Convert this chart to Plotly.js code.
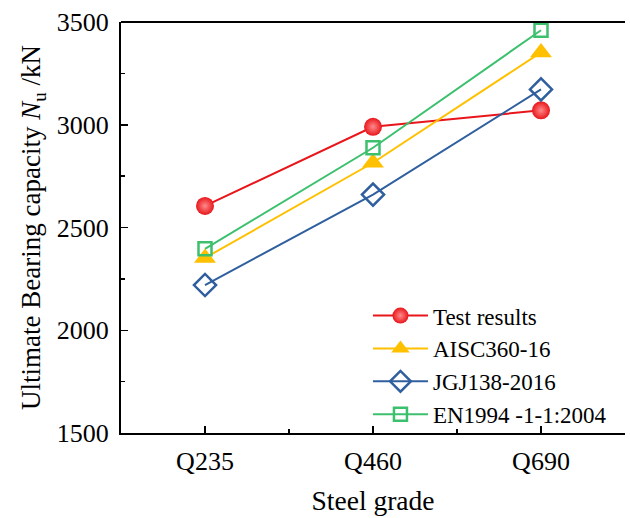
<!DOCTYPE html>
<html>
<head>
<meta charset="utf-8">
<script src="https://cdn.plot.ly/plotly-3.0.1.min.js"></script>
<style>html,body{margin:0;padding:0;background:#fff;}</style>
</head>
<body>
<div id="chart" style="width:630px;height:518px;"></div>
<script>
const categories = ["Q235", "Q460", "Q690"];
const testResults = [2605, 2990, 3070];
const aisc360 = [2352, 2815, 3352];
const jgj138 = [2220, 2660, 3172];
const en1994 = [2396, 2888, 3460];
const seriesNames = ["Test results", "AISC360-16", "JGJ138-2016", "EN1994 -1-1:2004"];

const xIdx = categories.map((c, i) => i);
const serif = "Liberation Serif, Times New Roman, serif";

const traces = [
  {x: xIdx, y: testResults, name: seriesNames[0], mode: "lines+markers",
   line: {color: "#e8161b", width: 2},
   marker: {symbol: "circle", size: 18, color: "#e8161b", gradient: {type: "radial", color: "#ff8a8a"}}},
  {x: xIdx, y: aisc360, name: seriesNames[1], mode: "lines+markers",
   line: {color: "#ffc000", width: 2},
   marker: {symbol: "triangle-up", size: 19, color: "#ffc000"}},
  {x: xIdx, y: jgj138, name: seriesNames[2], mode: "lines+markers",
   line: {color: "#2f5f9e", width: 2},
   marker: {symbol: "diamond-open", size: 17, color: "#2f5f9e", line: {width: 2.5}}},
  {x: xIdx, y: en1994, name: seriesNames[3], mode: "lines+markers",
   line: {color: "#3cc06e", width: 2},
   marker: {symbol: "square-open", size: 13, color: "#3cc06e", line: {width: 2.5}}}
];

const layout = {
  width: 630, height: 518,
  margin: {l: 121, r: 5, t: 22, b: 85},
  paper_bgcolor: "#ffffff", plot_bgcolor: "#ffffff",
  font: {family: serif, size: 26, color: "#000"},
  showlegend: true,
  legend: {
    x: 0.49, y: 0.338, xanchor: "left", yanchor: "top",
    itemwidth: 55,
    bgcolor: "rgba(0,0,0,0)", borderwidth: 0,
    font: {family: serif, size: 23, color: "#000"}
  },
  xaxis: {
    range: [-0.5, 2.5],
    tickvals: xIdx, ticktext: categories,
    ticks: "inside", ticklen: 7, tickwidth: 1.5, tickcolor: "#000",
    minor: {dtick: 0.5, ticks: "inside", ticklen: 4, tickwidth: 1.5, tickcolor: "#000"},
    showline: true, linecolor: "#000", linewidth: 2, mirror: false,
    showgrid: false, zeroline: false,
    tickfont: {family: serif, size: 26},
    ticklabelstandoff: 4,
    title: {text: "Steel grade", font: {family: serif, size: 27.5}, standoff: 16}
  },
  yaxis: {
    range: [1500, 3500],
    tickvals: [1500, 2000, 2500, 3000, 3500],
    ticks: "inside", ticklen: 7, tickwidth: 1.5, tickcolor: "#000",
    minor: {dtick: 250, ticks: "inside", ticklen: 4, tickwidth: 1.5, tickcolor: "#000"},
    showline: true, linecolor: "#000", linewidth: 2,
    showgrid: false, zeroline: false,
    tickfont: {family: serif, size: 26},
    ticklabelstandoff: 5,
    title: {text: "Ultimate Bearing capacity <i>N</i><sub>u</sub> /kN", font: {family: serif, size: 27}, standoff: 8}
  },
  shapes: [
    {type: "line", xref: "paper", yref: "paper", x0: 0, x1: 1, y0: 1, y1: 1, line: {color: "#000", width: 2}}
  ]
};

Plotly.newPlot("chart", traces, layout, {displayModeBar: false, staticPlot: true});
</script>
</body>
</html>
